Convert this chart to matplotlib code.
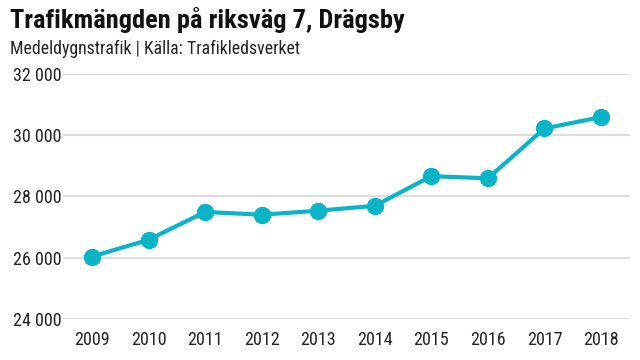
import matplotlib
matplotlib.use("Agg")
import matplotlib.pyplot as plt
from matplotlib import font_manager
from matplotlib.ticker import FuncFormatter

years = [2009, 2010, 2011, 2012, 2013, 2014, 2015, 2016, 2017, 2018]
traffic = [26030, 26580, 27490, 27400, 27530, 27690, 28660, 28590, 30220, 30590]
y_ticks = [24000, 26000, 28000, 30000, 32000]

title = "Trafikmängden på riksväg 7, Drägsby"
subtitle = "Medeldygnstrafik | Källa: Trafikledsverket"

names = {f.name for f in font_manager.fontManager.ttflist}
font = "Lato"
for cand in ["Roboto Condensed", "Liberation Sans Narrow", "Lato"]:
    if cand in names:
        font = cand
        break
plt.rcParams["font.family"] = [font, "DejaVu Sans"]

color = "#0ab4c7"

fig = plt.figure(figsize=(6.4, 3.6), dpi=100)
ax = fig.add_axes([63 / 640, 1 - 318.7 / 360, 567 / 640, (318.7 - 74) / 360])

ax.plot(years, traffic, color=color, lw=3, marker="o", ms=11.5,
        clip_on=False, zorder=3)

ax.set_xlim(years[0] - 0.512, years[-1] + 0.512)
ax.set_ylim(y_ticks[0], y_ticks[-1])
ax.set_yticks(y_ticks)
ax.set_xticks(years)
ax.yaxis.set_major_formatter(FuncFormatter(lambda v, p: f"{int(v):,}".replace(",", " ")))
ax.grid(axis="y", color="#dddddd", lw=1.5)
ax.set_axisbelow(True)
for s in ax.spines.values():
    s.set_visible(False)
ax.tick_params(length=0, labelsize=13, colors="#222222")
ax.tick_params(axis="y", pad=1)
ax.tick_params(axis="x", pad=9)

fig.text(10 / 640, 1 - 7 / 360, title, fontsize=19, fontweight="bold",
         va="top", ha="left", color="#111111")
fig.text(10 / 640, 1 - 40 / 360, subtitle, fontsize=12.8,
         va="top", ha="left", color="#222222")

fig.savefig("out.png", dpi=100)
